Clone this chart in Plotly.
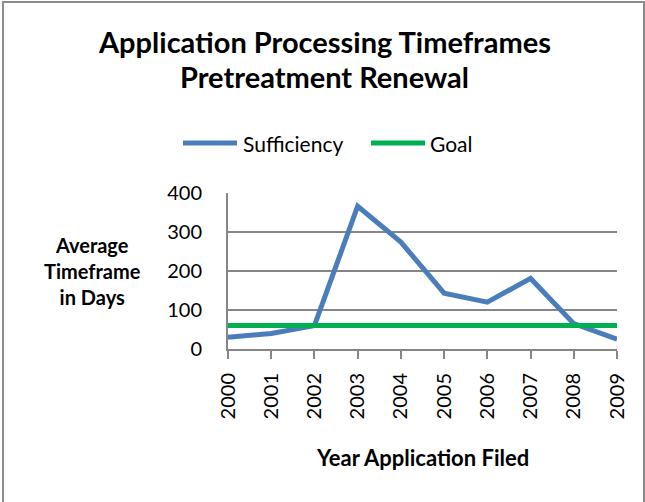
import plotly.graph_objects as go

years = ["2000", "2001", "2002", "2003", "2004", "2005", "2006", "2007", "2008", "2009"]
sufficiency = [30, 40, 60, 366, 274, 143, 120, 181, 65, 25]
goal = [60, 60, 60, 60, 60, 60, 60, 60, 60, 60]
y_ticks = [0, 100, 200, 300, 400]
series_names = ["Sufficiency", "Goal"]
series_colors = ["#4A7EBB", "#00B050"]

FONT = "Lato"
W, H = 645, 502
L, R, T, B = 228, 28, 193, 153
pw, ph = W - L - R, H - T - B

def px_x(x):
    return (x - L) / pw

def px_y(y):
    return (H - B - y) / ph

fig = go.Figure()
for name, vals, col in zip(series_names, [sufficiency, goal], series_colors):
    fig.add_trace(go.Scatter(x=years, y=vals, mode="lines", name=name,
                             line=dict(color=col, width=5), showlegend=False))

fig.update_layout(
    width=W, height=H,
    margin=dict(l=L, r=R, t=T, b=B),
    paper_bgcolor="white", plot_bgcolor="white",
    font=dict(family=FONT, color="black", size=20),
    showlegend=False,
    xaxis=dict(type="category", range=[0, 9], showgrid=False, showline=True,
               linecolor="#868686", linewidth=2, ticks="outside", ticklen=8,
               tickcolor="#868686", tickwidth=2, tickangle=-90,
               tickfont=dict(size=20, family=FONT), ticklabelstandoff=6,
               zeroline=False),
    yaxis=dict(range=[0, 400], tickvals=y_ticks, showgrid=True, gridcolor="#868686",
               gridwidth=2, showline=True, linecolor="#868686", linewidth=2,
               ticks="", tickfont=dict(size=20, family=FONT), ticklabelstandoff=20,
               zeroline=False),
)

# Title (two lines)
fig.add_annotation(text="<b>Application Processing Timeframes</b>",
                   xref="paper", yref="paper", x=px_x(324), y=px_y(41), showarrow=False,
                   xanchor="center", yanchor="middle",
                   font=dict(size=29, family=FONT, color="black"))
fig.add_annotation(text="<b>Pretreatment Renewal</b>",
                   xref="paper", yref="paper", x=px_x(324), y=px_y(76), showarrow=False,
                   xanchor="center", yanchor="middle",
                   font=dict(size=29, family=FONT, color="black"))

# Legend drawn manually
leg_items = [(183, 237, 241), (371, 425, 428)]
for (x0, x1, tx), name, col in zip(leg_items, series_names, series_colors):
    fig.add_shape(type="line", xref="paper", yref="paper",
                  x0=px_x(x0), x1=px_x(x1), y0=px_y(143), y1=px_y(143),
                  line=dict(color=col, width=5))
    fig.add_annotation(text=name, xref="paper", yref="paper", x=px_x(tx), y=px_y(143),
                       showarrow=False, xanchor="left", yanchor="middle",
                       font=dict(size=21, family=FONT, color="black"))

fig.add_annotation(text="<b>Average<br>Timeframe<br>in Days</b>",
                   xref="paper", yref="paper", x=px_x(92), y=px_y(271), showarrow=False,
                   xanchor="center", yanchor="middle",
                   font=dict(size=20, family=FONT, color="black"))
fig.add_annotation(text="<b>Year Application Filed</b>",
                   xref="paper", yref="paper", x=px_x(422), y=px_y(457), showarrow=False,
                   xanchor="center", yanchor="middle",
                   font=dict(size=22, family=FONT, color="black"))

fig.add_shape(type="rect", xref="paper", yref="paper",
              x0=px_x(3), x1=px_x(644), y0=px_y(505), y1=px_y(2),
              line=dict(color="#8c8c8c", width=2), fillcolor="rgba(0,0,0,0)", layer="below")

fig.write_html("out.html", config={"displayModeBar": False},
               post_script="document.body.style.margin='0';")
